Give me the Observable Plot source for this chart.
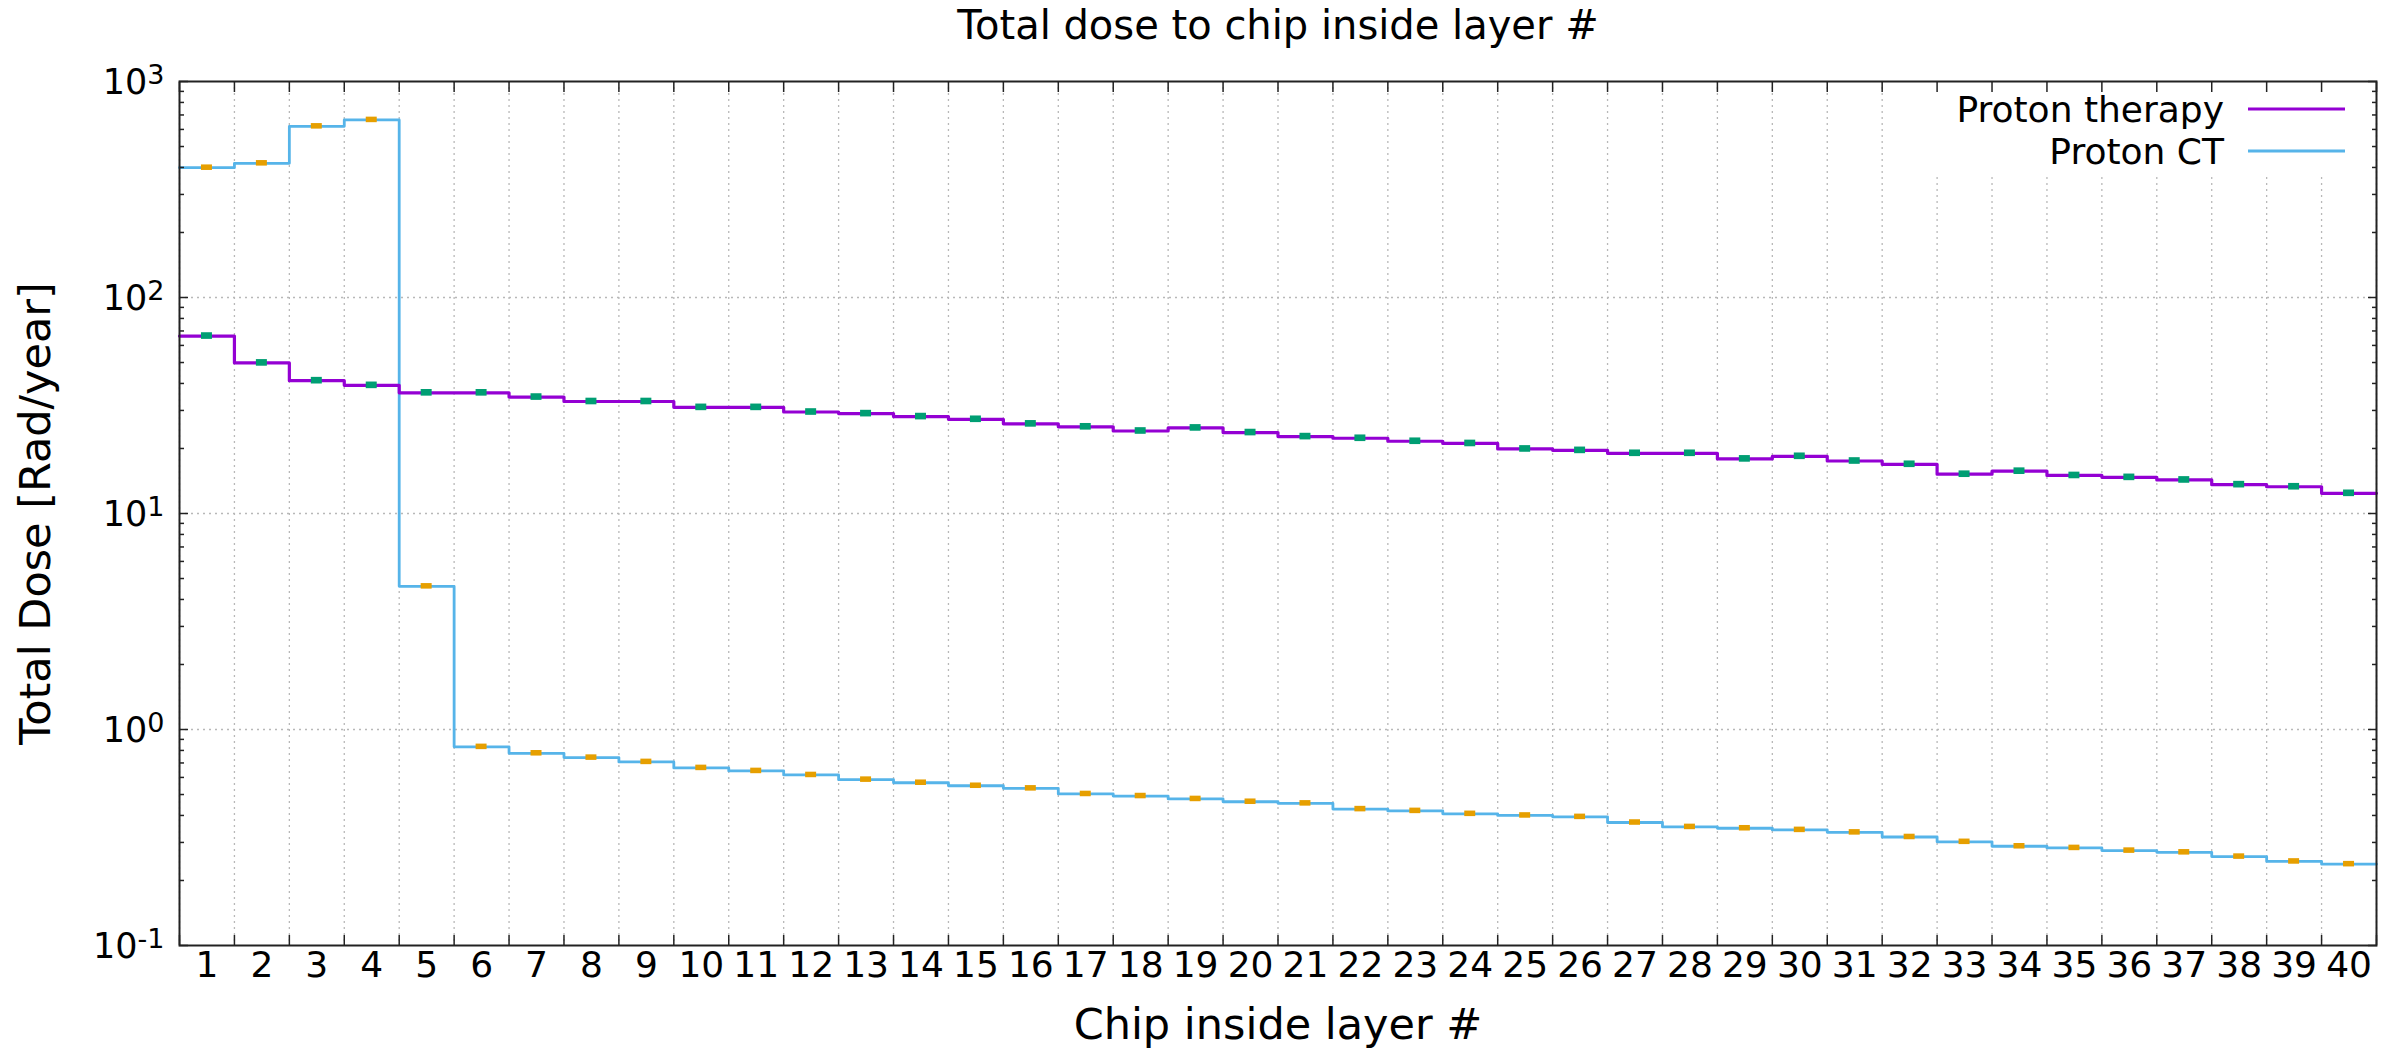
<!DOCTYPE html>
<html>
<head>
<meta charset="utf-8">
<script src="https://cdn.jsdelivr.net/npm/d3@7"></script>
<script src="https://cdn.jsdelivr.net/npm/@observablehq/plot@0.6"></script>
<style>
  html, body { margin: 0; padding: 0; background: #fff; }
  svg { display: block; }
</style>
</head>
<body>
<div id="chart"></div>
<script>
// ---------- data ----------
const chips = [1,2,3,4,5,6,7,8,9,10,11,12,13,14,15,16,17,18,19,20,21,22,23,24,25,26,27,28,29,30,31,32,33,34,35,36,37,38,39,40];
const protonTherapy = [66.3, 49.8, 41.2, 39.2, 36.2, 36.2, 34.6, 33.0, 33.0, 31.0, 31.0, 29.5, 29.0, 28.1, 27.3, 26.0, 25.2, 24.1, 24.9, 23.7, 22.7, 22.3, 21.6, 21.1, 19.9, 19.6, 19.0, 19.0, 17.9, 18.4, 17.5, 16.9, 15.2, 15.7, 15.0, 14.7, 14.3, 13.6, 13.3, 12.4];
const protonCT = [399, 418, 620, 664, 4.6, 0.831, 0.776, 0.741, 0.708, 0.664, 0.643, 0.616, 0.586, 0.567, 0.549, 0.534, 0.503, 0.492, 0.477, 0.463, 0.455, 0.428, 0.420, 0.407, 0.400, 0.394, 0.371, 0.354, 0.349, 0.343, 0.334, 0.318, 0.302, 0.288, 0.283, 0.275, 0.270, 0.258, 0.245, 0.238];
const seriesNames = ["Proton therapy", "Proton CT"];
const seriesColors = ["#9400d3", "#56b4e9"];
const markerColors = ["#009e73", "#e69f00"];
const yTickValues = [0.1, 1, 10, 100, 1000];
const yTickExponents = ["-1", "0", "1", "2", "3"];
const titleText = "Total dose to chip inside layer #";
const xLabelText = "Chip inside layer #";
const yLabelText = "Total Dose [Rad/year]";

// ---------- derived ----------
const boundaries = chips.map(c => c - 0.5).concat([chips[chips.length - 1] + 0.5]);
const minorTicks = [];
for (const d of yTickValues.slice(0, -1)) for (let k = 2; k <= 9; k++) minorTicks.push(d * k);

function steps(values) {
  const pts = chips.map((c, i) => ({x: c - 0.5, y: values[i]}));
  pts.push({x: chips[chips.length - 1] + 0.5, y: values[values.length - 1]});
  return pts;
}
function markers(values) {
  return chips.map((c, i) => ({c, v: values[i]}));
}

const font = "DejaVu Sans, 'Liberation Sans', sans-serif";
const gridStyle = {stroke: "#b8b8b8", strokeOpacity: 1, strokeWidth: 1.3, strokeDasharray: "2,4"};
const axisStroke = "#222";

// widths of exponent strings (DejaVu Sans advance, em)
const charW = {"-": 0.361, "0": 0.636, "1": 0.636, "2": 0.636, "3": 0.636};
const expFont = 27, baseFont = 35;
function expWidth(s) { return [...s].reduce((a, ch) => a + (charW[ch] || 0.636), 0) * expFont; }

const yLabelMarks = [];
yTickValues.forEach((v, i) => {
  const e = yTickExponents[i];
  const ew = expWidth(e);
  yLabelMarks.push(Plot.text([v], {y: d => d, frameAnchor: "left", text: () => "10", textAnchor: "end",
    dx: -(15 + ew), dy: 1.5, fontSize: baseFont, lineAnchor: "middle", fill: "#000"}));
  yLabelMarks.push(Plot.text([v], {y: d => d, frameAnchor: "left", text: () => e, textAnchor: "end",
    dx: -15, dy: -6, fontSize: expFont, lineAnchor: "middle", fill: "#000"}));
});

function legendBox(index, scales, values, dimensions) {
  const right = dimensions.width - dimensions.marginRight;
  const top = dimensions.marginTop;
  const g = d3.create("svg:g");
  g.append("rect").attr("x", right - 476).attr("y", top + 1.5).attr("width", 474.5).attr("height", 91).attr("fill", "#fff");
  return g.node();
}
function legend(index, scales, values, dimensions) {
  const right = dimensions.width - dimensions.marginRight;
  const top = dimensions.marginTop;
  const g = d3.create("svg:g").attr("font-family", font).attr("font-size", 36);
  seriesNames.forEach((name, i) => {
    const cy = top + 28 + i * 42;
    g.append("text").attr("x", right - 152).attr("y", cy + 13).attr("text-anchor", "end").attr("fill", "#000").text(name);
    g.append("line").attr("x1", right - 128).attr("x2", right - 31).attr("y1", cy).attr("y2", cy)
      .attr("stroke", seriesColors[i]).attr("stroke-width", 3);
  });
  return g.node();
}

const chart = Plot.plot({
  width: 2402,
  height: 1049,
  marginLeft: 179,
  marginRight: 26,
  marginTop: 81,
  marginBottom: 104,
  style: {fontFamily: font, background: "#fff", color: "#000", overflow: "visible"},
  x: {type: "linear", domain: [0.5, 40.5]},
  y: {type: "log", domain: [0.1, 1000]},
  marks: [
    Plot.gridX(boundaries, gridStyle),
    Plot.gridY(yTickValues.slice(1, -1), gridStyle),
    legendBox,
    Plot.line(steps(protonCT), {x: "x", y: "y", curve: "step-after", stroke: seriesColors[1], strokeWidth: 2.8}),
    Plot.line(steps(protonTherapy), {x: "x", y: "y", curve: "step-after", stroke: seriesColors[0], strokeWidth: 3.2}),
    Plot.rect(markers(protonTherapy), {x1: d => d.c - 0.1, x2: d => d.c + 0.1, y1: d => d.v / 1.036, y2: d => d.v * 1.036, fill: markerColors[0]}),
    Plot.rect(markers(protonCT), {x1: d => d.c - 0.1, x2: d => d.c + 0.1, y1: d => d.v / 1.03, y2: d => d.v * 1.03, fill: markerColors[1]}),
    Plot.frame({stroke: axisStroke, strokeWidth: 2}),
    Plot.axisX(boundaries, {anchor: "bottom", tickSize: -10, tickFormat: () => "", label: null, stroke: axisStroke, strokeWidth: 1.5}),
    Plot.axisX(boundaries, {anchor: "top", tickSize: -10, tickFormat: () => "", label: null, stroke: axisStroke, strokeWidth: 1.5}),
    Plot.axisX(chips, {anchor: "bottom", tickSize: 0, tickPadding: 5.5, fontSize: 36, tickFormat: d => String(d), label: null, fill: "#000"}),
    Plot.axisY(yTickValues, {anchor: "left", tickSize: -9, tickFormat: () => "", label: null, stroke: axisStroke, strokeWidth: 1.5}),
    Plot.axisY(yTickValues, {anchor: "right", tickSize: -9, tickFormat: () => "", label: null, stroke: axisStroke, strokeWidth: 1.5}),
    Plot.axisY(minorTicks, {anchor: "left", tickSize: -5, tickFormat: () => "", label: null, stroke: axisStroke, strokeWidth: 1.5}),
    Plot.axisY(minorTicks, {anchor: "right", tickSize: -5, tickFormat: () => "", label: null, stroke: axisStroke, strokeWidth: 1.5}),
    ...yLabelMarks,
    Plot.text([titleText], {text: d => d, frameAnchor: "top", textAnchor: "middle", lineAnchor: "top", dy: -71, fontSize: 40, fill: "#000"}),
    Plot.text([xLabelText], {text: d => d, frameAnchor: "bottom", textAnchor: "middle", lineAnchor: "top", dy: 63, fontSize: 43, fill: "#000"}),
    Plot.text([yLabelText], {text: d => d, frameAnchor: "left", textAnchor: "middle", lineAnchor: "top", rotate: -90, dx: -160, fontSize: 43, fill: "#000"}),
    legend
  ]
});
document.getElementById("chart").appendChild(chart);
</script>
</body>
</html>
